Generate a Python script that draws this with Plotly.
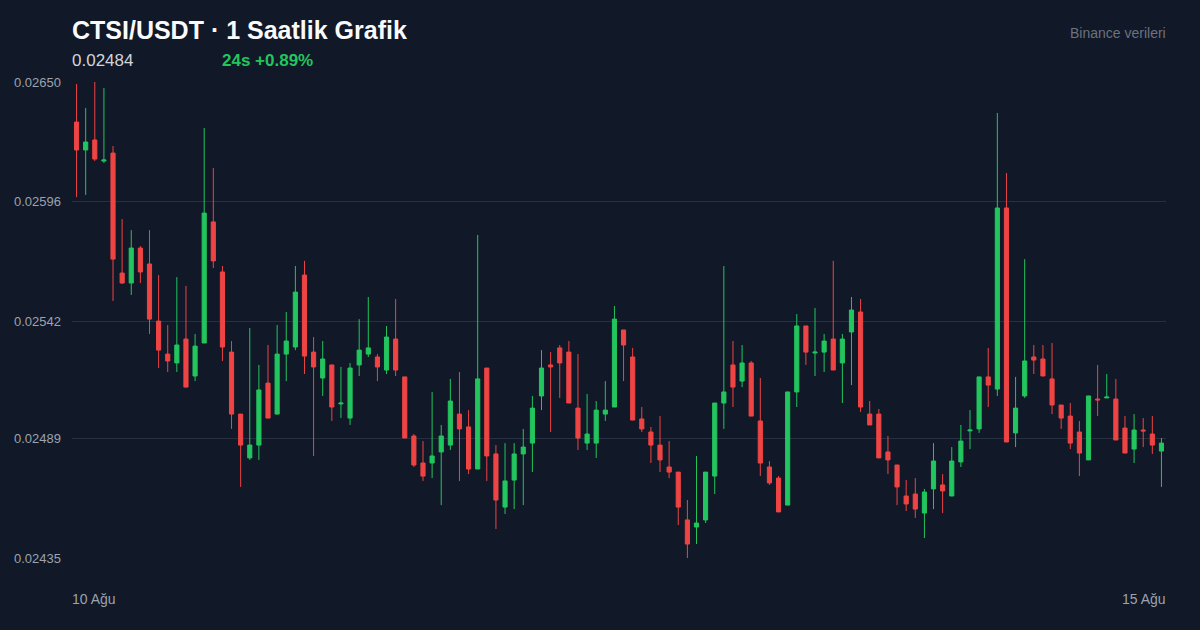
import plotly.graph_objects as go

opens = [26319,26193,26238,26143,26179,25637,25592,25750,25678,25420,25271,25231,25339,25172,25321,25868,25642,25280,25000,24802,
 24860,25140,25000,25271,25303,25628,25280,25163,25222,25046,24982,25222,25271,25258,25199,25339,25168,24901,24779,24779,
 24829,24860,25000,24942,24752,25208,24820,24580,24702,24820,24869,25082,25222,25299,25280,25027,24869,24869,25000,25032,
 25380,25258,24978,24919,24860,24761,24738,24522,24490,24522,24720,25050,25222,25149,25231,24969,24761,24711,24589,25100,
 25398,25276,25280,25339,25231,25371,25461,25000,25000,24829,24770,24630,24639,24553,24662,24680,24630,24784,24924,24933,
 25168,25113,25931,24915,25082,25258,25249,25159,25041,24991,24919,24793,25068,25073,25068,24937,24842,24928,24910,24833]
highs = [26491,26383,26500,26473,26211,25881,25831,25759,25831,25628,25402,25619,25579,25362,26292,26112,25669,25330,25000,25389,
 25222,25312,25402,25461,25669,25692,25348,25330,25222,25213,25231,25429,25529,25271,25398,25520,25168,24910,24878,25100,
 24951,25159,25190,25018,25809,25208,24860,24869,24869,24933,25082,25289,25280,25312,25330,25271,25091,25059,25149,25488,
 25380,25299,25032,24942,24991,24878,24738,24612,24811,24738,25050,25669,25330,25312,25240,25163,24788,24720,25100,25452,
 25398,25479,25362,25692,25362,25529,25520,25059,25023,24901,24770,24702,24711,24662,24869,24729,24851,24951,25018,25168,
 25299,26360,26089,25168,25700,25312,25312,25321,25041,25050,24969,25082,25222,25181,25159,24991,25000,24982,24991,24892]
lows = [25980,25990,26143,26134,25511,25588,25538,25592,25362,25208,25190,25190,25122,25149,25321,25660,25240,24933,24671,24793,
 24793,24982,25000,25149,25289,25181,24811,25082,24969,24982,24951,25172,25258,25149,25181,25172,24892,24761,24698,24711,
 24589,24838,24698,24729,24752,24698,24481,24549,24571,24589,24738,25018,24919,25073,25050,24838,24838,24802,24969,25032,
 25149,24973,24919,24779,24738,24711,24499,24350,24413,24508,24639,24933,25032,25122,24991,24720,24680,24558,24589,25032,
 25222,25172,25190,25199,25050,25131,25009,24951,24802,24729,24589,24562,24531,24440,24571,24553,24630,24761,24842,24915,
 25032,25082,24874,24851,25073,25181,25172,25000,24933,24842,24720,24793,24991,25073,24883,24824,24779,24851,24820,24671]
closes = [26193,26229,26152,26148,25700,25592,25750,25642,25429,25289,25240,25312,25122,25307,25908,25692,25303,25000,24860,24860,
 25109,24982,25271,25330,25551,25262,25213,25249,25032,25050,25208,25289,25299,25213,25348,25199,24892,24770,24720,24811,
 24901,25059,24933,24752,25159,24811,24612,24698,24820,24851,25027,25208,25213,25231,25050,24892,24910,25018,25018,25429,
 25312,24973,24933,24860,24793,24738,24580,24413,24508,24738,25050,25100,25122,25231,24991,24779,24689,24558,25100,25398,
 25280,25280,25330,25199,25339,25470,25032,24951,24802,24793,24671,24594,24571,24648,24788,24653,24788,24878,24928,25168,
 25131,25931,24874,25027,25240,25244,25172,25041,24982,24869,24824,25082,25064,25077,24883,24824,24928,24924,24860,24869]

scale = 1e-6
o = [v*scale for v in opens]; h = [v*scale for v in highs]; l = [v*scale for v in lows]; c = [v*scale for v in closes]
x = list(range(len(opens)))

tick_vals = [0.02435, 0.02489, 0.02542, 0.02596, 0.02650]
tick_text = ["0.02435", "0.02489", "0.02542", "0.02596", "0.02650"]
date_labels = ["10 Ağu", "15 Ağu"]

fig = go.Figure(go.Candlestick(
    x=x, open=o, high=h, low=l, close=c,
    increasing=dict(line=dict(color="#22c55e", width=1), fillcolor="#22c55e"),
    decreasing=dict(line=dict(color="#ef4444", width=1), fillcolor="#ef4444"),
    whiskerwidth=0, showlegend=False, hoverinfo="skip"))

fig.update_layout(
    width=1200, height=630, paper_bgcolor="#111827", plot_bgcolor="#111827",
    margin=dict(l=72, r=34, t=82, b=72), boxgap=0.35,
    font=dict(family="Liberation Sans, Arial, sans-serif", color="#9ca3af"),
    xaxis=dict(range=[-0.5, len(opens)-0.5], showgrid=False, showticklabels=False, zeroline=False,
               rangeslider=dict(visible=False), fixedrange=True),
    yaxis=dict(range=[0.02435, 0.02650], tickvals=tick_vals, ticktext=tick_text, gridcolor="#263041",
               gridwidth=1, zeroline=False, tickfont=dict(size=13, color="#9ca3af"), ticks="", ticklabelstandoff=10),
    annotations=[
        dict(text="<b>CTSI/USDT · 1 Saatlik Grafik</b>", x=70, y=630-30,
             showarrow=False, xanchor="left", yanchor="middle", font=dict(size=25, color="#f9fafb")),
        dict(text="0.02484", x=70, y=630-61, showarrow=False, xanchor="left", yanchor="middle",
             font=dict(size=17, color="#d1d5db")),
        dict(text="<b>24s +0.89%</b>", x=220, y=630-61, showarrow=False, xanchor="left", yanchor="middle",
             font=dict(size=17, color="#22c55e")),
        dict(text="Binance verileri", x=1168, y=630-33, showarrow=False, xanchor="right", yanchor="middle",
             font=dict(size=14, color="#6b7280")),
        dict(text=date_labels[0], x=70, y=630-599, showarrow=False, xanchor="left", yanchor="middle",
             font=dict(size=14, color="#9ca3af")),
        dict(text=date_labels[1], x=1168, y=630-599, showarrow=False, xanchor="right", yanchor="middle",
             font=dict(size=14, color="#9ca3af")),
    ])
for a in fig.layout.annotations:
    a.xref = "paper"; a.yref = "paper"
    a.x = (a.x - 72) / (1200 - 72 - 34)
    a.y = (a.y - 72) / (630 - 82 - 72)
fig.write_html("out.html", config={"displayModeBar": False})
with open("out.html", encoding="utf-8") as f:
    html = f.read()
html = html.replace("<head>", "<head><style>html,body{margin:0;padding:0;background:#111827;overflow:hidden}</style>", 1)
with open("out.html", "w", encoding="utf-8") as f:
    f.write(html)
